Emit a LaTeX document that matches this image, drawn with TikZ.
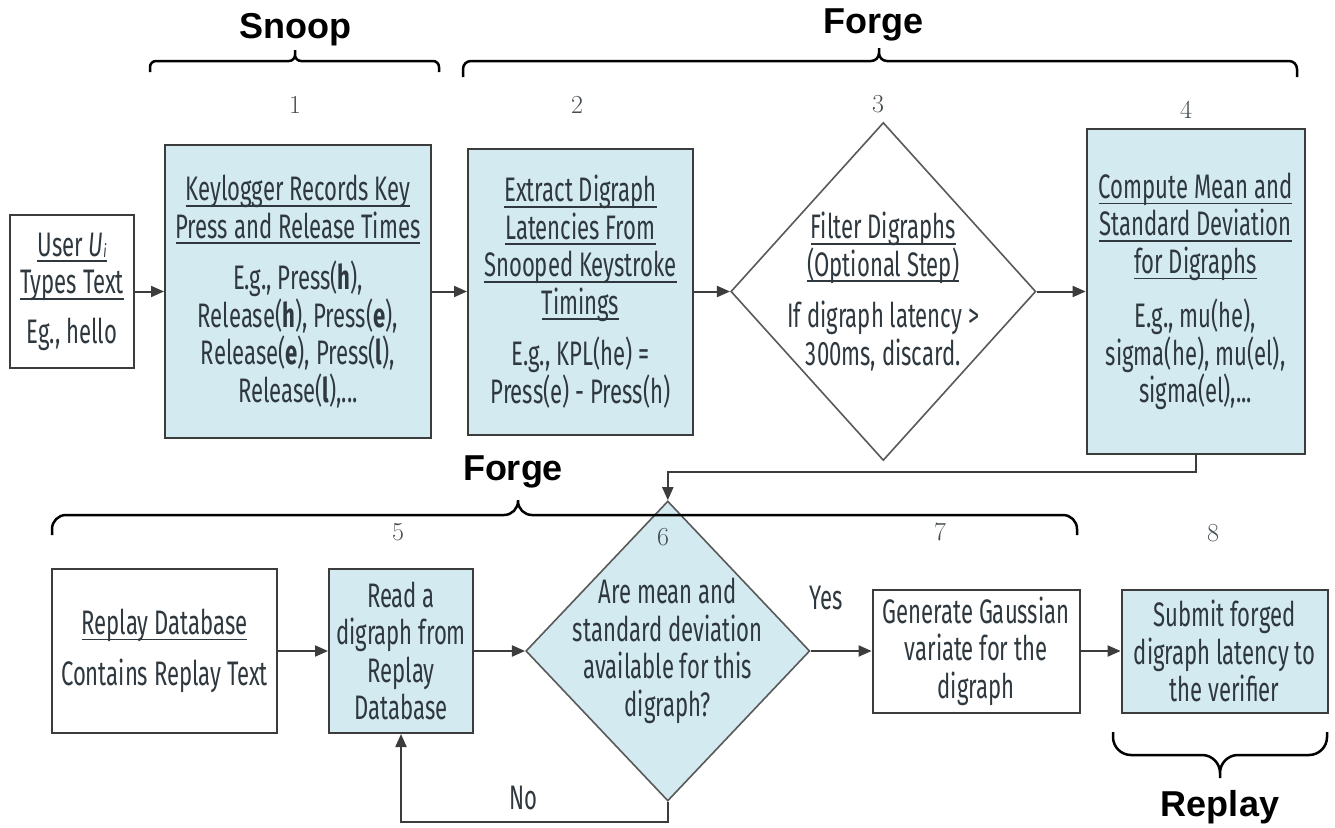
\documentclass[tikz,border=0pt]{standalone}
\usepackage{fontspec}
\usepackage{tikz}
\usetikzlibrary{arrows.meta, positioning, shapes.geometric}
\newfontfamily\agency[FakeStretch=0.65]{Fira Sans}
\newfontfamily\phasefont{Liberation Sans}
\newcommand{\uln}[1]{\setbox0\hbox{#1}\rlap{\rule[-6pt]{\wd0}{1.8pt}}\box0}
\definecolor{boxfill}{RGB}{212,234,241}
\definecolor{ink}{RGB}{46,56,62}
\definecolor{edge}{RGB}{60,60,60}
\tikzset{%
	box/.style={draw=edge, line width=2pt, inner sep=0pt, fill=boxfill, align=center,%
		text=ink, font=\agency\fontsize{34}{37.5}\selectfont},
	wbox/.style={box, fill=white},
	dia/.style={diamond, draw=edge!85, line width=1.6pt, inner sep=0pt, fill=white},
	dtext/.style={align=center, text=ink, inner sep=0pt, font=\agency\fontsize{34}{37.5}\selectfont},
	sel/.style={-{Triangle[length=13pt,width=11pt]}, line width=2pt, draw=edge},
	num/.style={font=\fontsize{26}{30}\selectfont, text=ink!90},
	phase/.style={font=\phasefont\bfseries\fontsize{36}{40}\selectfont},
	bracket/.style={line width=2.5pt, rounded corners=#1},
	bracket/.default=7pt
}
\begin{document}
\begin{tikzpicture}[x=1pt, y=-1pt]
	\useasboundingbox (0,0) rectangle (1335,827);

	% first row
	\node[wbox, minimum width=124pt, minimum height=153pt] (user) at (72,291.5)
		{\uln{User \textit{U}\raisebox{-1pt}{\fontsize{18}{18}\selectfont\textit{i}}}\\ \uln{Types Text}\\[12pt] Eg., hello};
	\node[box, minimum width=266pt, minimum height=293pt, right=29pt of user] (keylog)
		{\uln{Keylogger Records Key}\\ \uln{Press and Release Times}\\[14pt]
		E.g., Press(\textbf{h}),\\ Release(\textbf{h}), Press(\textbf{e}),\\
		Release(\textbf{e}), Press(\textbf{l}),\\ Release(\textbf{l}),...};
	\node[box, minimum width=225pt, minimum height=286pt, right=35pt of keylog] (extract)
		{\uln{Extract Digraph}\\ \uln{Latencies From}\\ \uln{Snooped Keystroke}\\ \uln{Timings}\\[14pt]
		E.g., KPL(he) =\\ Press(e) - Press(h)};
	\node[dia, minimum width=305pt, minimum height=338pt, right=36pt of extract] (filter) {};
	\node[dtext] (filter-t) at (filter)
		{\uln{Filter Digraphs}\\ \uln{(Optional Step)}\\[14pt] If digraph latency >\\ 300ms, discard.};
	\node[box, minimum width=218pt, minimum height=325pt, right=49pt of filter] (compute)
		{\uln{Compute Mean and}\\ \uln{Standard Deviation}\\ \uln{for Digraphs}\\[17pt]
		E.g., mu(he),\\ sigma(he), mu(el),\\ sigma(el),...};

	% second row
	\node[wbox, minimum width=225pt, minimum height=164pt] (replaydb) at (164.5,651)
		{\uln{Replay Database}\\[14pt] Contains Replay Text};
	\node[box, minimum width=144pt, minimum height=164pt, right=50pt of replaydb] (read)
		{Read a\\ digraph from\\ Replay\\ Database};
	\node[dia, fill=boxfill, minimum width=284pt, minimum height=300pt, right=51pt of read] (check) {};
	\node[dtext] (check-t) at (check)
		{Are mean and\\ standard deviation\\ available for this\\ digraph?};
	\node[wbox, minimum width=207pt, minimum height=123pt, right=61pt of check] (gauss)
		{Generate Gaussian\\ variate for the\\ digraph};
	\node[box, minimum width=206pt, minimum height=123pt, right=40pt of gauss] (submit)
		{Submit forged\\ digraph latency to\\ the verifier};

	% step numbers
	\node[num] (n1) at (295,105) {1};
	\node[num] (n2) at (577,105) {2};
	\node[num] (n3) at (878,104) {3};
	\node[num] (n4) at (1186,110) {4};
	\node[num] (n5) at (398,532) {5};
	\node[num] (n6) at (663,537) {6};
	\node[num] (n7) at (940,532) {7};
	\node[num] (n8) at (1213,533) {8};

	% phases and their braces
	\node[phase] (snoop) at (295,30) {Snoop};
	\node[phase] (forge1) at (873,25) {Forge};
	\node[phase] (forge2) at (513,472) {Forge};
	\node[phase] (replay) at (1220,807) {Replay};
	\draw[bracket=6pt] (150,72) -- (150,61) -- (295,61) -- (295,50)
		(439,72) -- (439,61) -- (295,61) -- (295,50);
	\draw[bracket=8pt] (463,77) -- (463,61) -- (879,61) -- (879,48)
		(1297,77) -- (1297,61) -- (879,61) -- (879,48);
	\draw[bracket=14pt] (52,535) -- (52,515) -- (518,515) -- (518,500)
		(1077,535) -- (1077,515) -- (518,515) -- (518,500);
	\draw[bracket=18pt] (1113,732) -- (1113,755) -- (1220,755) -- (1220,778)
		(1327,732) -- (1327,755) -- (1220,755) -- (1220,778);

	% flow
	\draw[sel] (user) -- (keylog);
	\draw[sel] (keylog) -- (extract);
	\draw[sel] (extract) -- (filter);
	\draw[sel] (filter) -- (compute);
	\draw[sel] (compute.south) -- ++(0,17) -| (check.north);
	\draw[sel] (replaydb) -- (read);
	\draw[sel] (read) -- (check);
	\draw[sel] (check) -- node[dtext, pos=0.25, above=40pt] (yes) {Yes} (gauss);
	\draw[sel] (gauss) -- (submit);
	\draw[sel] (check.south) -- ++(0,20) -| node[dtext, pos=0.27, above=11pt] (no) {No} (read.south);
\end{tikzpicture}
\end{document}
